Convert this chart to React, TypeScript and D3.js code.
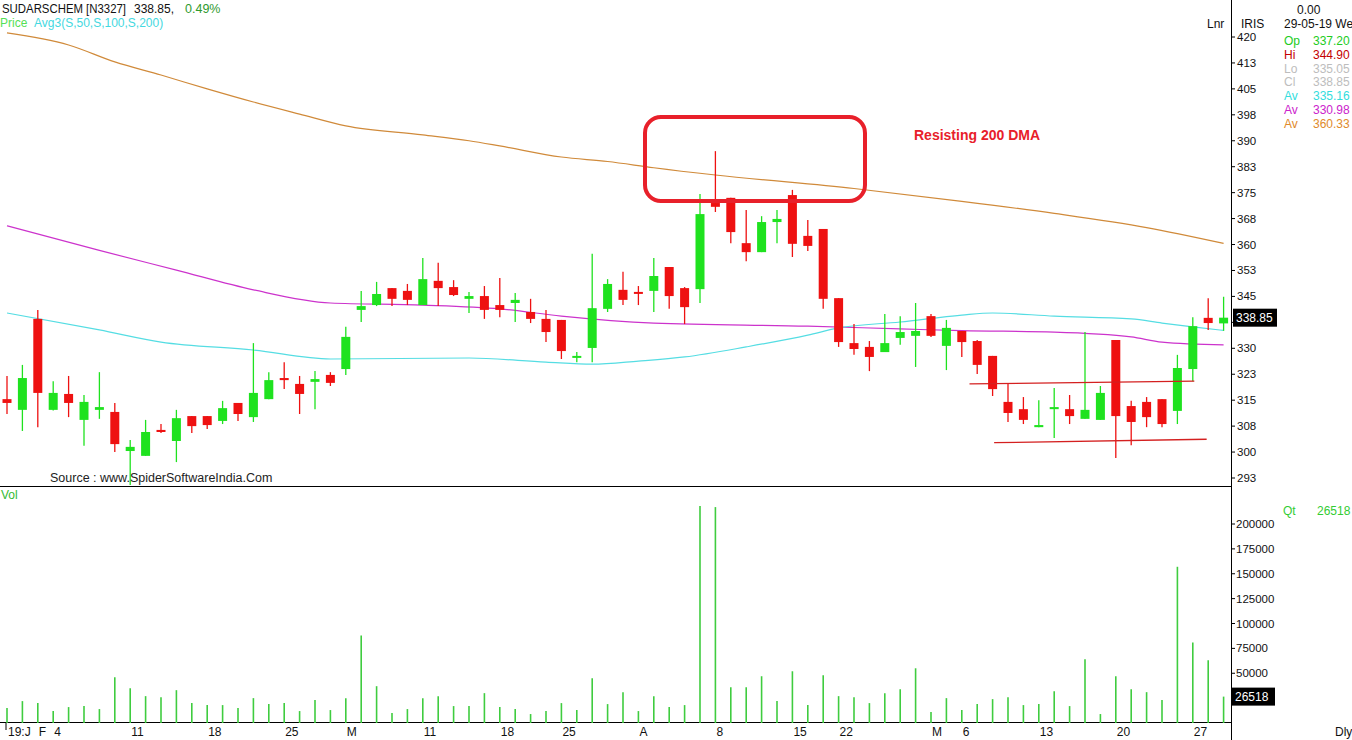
import React from 'react';
import * as d3 from 'd3';

// ---------- DATA ----------
const opens = [315.3,312.2,338.5,312.2,316.8,309.3,312.2,311.6,300.3,298.9,306.4,303.2,310.4,310.4,309.0,314.2,310.1,315.3,321.4,319.7,320.3,322.3,324.0,341.1,342.5,347.4,346.6,342.5,349.5,347.7,344.3,345.1,342.5,343.1,340.5,338.5,338.2,327.5,330.1,341.4,346.9,346.3,346.6,353.5,347.4,347.1,372.0,373.5,360.4,357.8,366.5,374.3,362.5,364.5,344.5,331.5,330.4,328.9,333.0,333.6,339.3,330.7,335.0,332.1,327.8,314.5,312.4,307.2,312.4,312.4,309.6,309.3,332.4,313.3,314.5,315.3,311.9,324.0,338.8,337.2];
const highs = [322.0,325.2,341.1,320.5,322.0,316.5,323.1,314.2,303.5,309.3,308.1,312.2,310.4,310.4,314.8,314.2,331.5,323.1,326.0,322.0,323.4,323.1,336.2,346.6,349.2,347.4,348.6,356.1,354.7,349.7,346.3,348.0,350.3,346.0,344.3,341.1,338.2,328.9,357.3,350.0,352.1,348.0,356.1,353.5,347.7,374.6,387.0,373.5,370.0,368.2,370.0,375.8,367.1,364.5,344.5,337.0,332.1,339.9,339.3,343.1,339.9,338.2,335.0,332.4,327.8,320.0,315.9,315.0,318.5,316.5,334.7,319.1,332.4,314.8,315.9,315.3,328.1,339.0,344.5,344.9];
const lows = [311.0,306.1,307.2,312.0,310.1,301.8,309.6,300.0,290.5,298.9,305.5,297.1,305.5,306.7,308.1,309.0,308.7,315.3,318.2,311.0,312.4,319.1,322.3,337.6,342.2,342.2,342.5,342.5,342.2,345.1,340.2,338.5,339.0,337.6,337.3,331.8,326.9,326.0,326.0,340.5,342.5,342.5,340.5,341.4,337.0,343.1,369.4,360.4,355.2,357.8,360.4,356.4,358.1,341.4,330.4,328.1,323.4,328.9,331.0,324.6,333.3,323.7,327.5,322.6,316.2,308.7,308.1,307.2,304.1,308.1,309.6,309.3,298.3,302.0,307.2,307.2,308.1,320.5,335.3,335.05];
const closes = [314.2,321.4,317.1,317.1,314.2,314.5,313.0,302.3,301.5,305.8,305.8,309.8,307.5,307.8,312.7,311.0,317.1,320.8,320.8,316.8,321.1,320.0,333.3,342.2,345.7,344.3,344.0,350.0,347.4,345.4,345.1,341.1,341.1,344.0,338.5,334.7,329.2,327.8,341.6,348.6,344.0,346.0,350.9,345.1,341.9,368.8,370.9,363.6,357.8,366.5,367.4,360.2,359.6,344.3,331.8,329.8,327.5,331.5,334.7,335.0,333.6,335.9,331.8,325.2,318.2,311.3,309.3,307.8,313.0,310.4,312.2,317.1,310.4,308.7,310.1,308.1,324.3,336.4,337.3,338.85];
const volumes = [15000,22000,20000,12000,16000,17000,14000,46000,35000,27000,26000,33000,20000,18000,18000,15000,25000,19000,20000,12000,23000,13000,25000,88000,37000,10000,14000,25000,27000,17000,17000,30000,16000,14000,9000,12000,20000,13000,45000,19000,31000,12000,27000,16000,18000,218000,217000,36000,36000,47000,22000,52000,18000,48000,27000,26000,20000,30000,34000,55000,11000,25000,13000,19000,24000,26000,18000,19000,32000,17000,64000,9000,47000,34000,31000,23000,157000,81000,63000,26518];

// moving averages read at candle indexes: [index, value]
const sma50 = [[0,340.2],[6,335.3],[10,331.8],[16,329.5],[21,326.9],[30,327.2],[35,326.0],[38,325.4],[41,326.3],[44,327.5],[48,330.4],[52,333.8],[54,335.9],[58,337.6],[62,339.6],[64,340.2],[68,339.3],[73,338.5],[75,337.3],[77,336.2],[79,335.16]];
const sma100 = [[0,365.4],[6,358.3],[11,352.6],[16,346.9],[21,343.1],[27,342.5],[32,341.4],[36,339.3],[42,337.3],[52,336.4],[58,335.6],[62,335.1],[68,334.7],[73,333.3],[75,331.8],[79,330.98]];
const sma200 = [[0,421.2],[4,417.7],[7,412.8],[10,409.0],[13,405.0],[16,401.2],[19,397.7],[22,394.3],[27,391.7],[30,390.0],[32,388.5],[36,385.3],[39,384.0],[42,382.2],[46,380.1],[55,376.2],[62,372.5],[68,369.0],[74,364.9],[79,360.33]];

// drawn support / resistance lines: [startIndex, startPrice, endIndex, endPrice]
const trendLines = [[62.5,319.7,77.1,320.5],[64.1,302.7,77.9,303.7]];

const priceTicks = [292.5,300,307.5,315,322.5,330,337.5,345,352.5,360,367.5,375,382.5,390,397.5,405,412.5,420];
const volTicks = [25000,50000,75000,100000,125000,150000,175000,200000];
const dateTickIdx = [0,2,3,8,13,18,22,27,32,36,41,46,51,54,60,62,67,72,77];
const dateTickLabels = ['19:J','F','4','11','18','25','M','11','18','25','A','8','15','22','M','6','13','20','27'];

const infoLabels = ['Op','Hi','Lo','Cl','Av','Av','Av'];
const infoValues = ['337.20','344.90','335.05','338.85','335.16','330.98','360.33'];
const infoColors = ['#22cc22','#c40000','#bdbdbd','#bdbdbd','#33dddd','#cc22cc','#e08a2a'];

// ---------- CHART ----------
const W = 1352, H = 740;
const AXIS_X = 1231;
const FONT = '"Liberation Sans", Arial, sans-serif';
const GREEN = '#1fe21f';
const RED = '#ee1111';

export default function App() {
  const x = d3.scaleLinear().domain([0, 79]).range([7, 1223.6]);
  const y = d3.scaleLinear().domain([292.5, 420]).range([478, 37]);
  const yv = d3.scaleLinear().domain([0, 200000]).range([723, 524]);

  const maLine = d3.line<number[]>().x(d => x(d[0])).y(d => y(d[1])).curve(d3.curveMonotoneX);

  const bodyW = 9;
  const lastClose = closes[closes.length - 1];
  const lastVol = volumes[volumes.length - 1];
  const closeY = y(lastClose);
  const volY = yv(lastVol);

  return (
    <svg width={W} height={H} style={{ position: 'absolute', left: 0, top: 0, background: '#fff' }} fontFamily={FONT}>
      <rect x={0} y={0} width={W} height={H} fill="#fff" />
      <defs>
        <clipPath id="pricePanel"><rect x={0} y={0} width={AXIS_X} height={486} /></clipPath>
        <clipPath id="volPanel"><rect x={0} y={487} width={AXIS_X} height={236} /></clipPath>
      </defs>

      {/* header */}
      <text x={2} y={13} fontSize={12} fill="#111" textLength={124} lengthAdjust="spacingAndGlyphs">SUDARSCHEM [N3327]</text>
      <text x={134} y={13} fontSize={12} fill="#111">338.85,</text>
      <text x={185} y={13} fontSize={12.5} fill="#2f9a2f">0.49%</text>
      <text x={0} y={27} fontSize={12} fill="#55e055">Price</text>
      <text x={34} y={27} fontSize={12} fill="#44d8e0">Avg3(S,50,S,100,S,200)</text>

      {/* moving averages */}
      <g clipPath="url(#pricePanel)" fill="none">
        <path d={maLine(sma200) || ''} stroke="#d08a3a" strokeWidth={1.2} />
        <path d={maLine(sma100) || ''} stroke="#cc33cc" strokeWidth={1.2} />
        <path d={maLine(sma50) || ''} stroke="#55dde3" strokeWidth={1.2} />
      </g>

      {/* candles */}
      <g clipPath="url(#pricePanel)">
        {opens.map((o, i) => {
          const c = closes[i];
          const up = c >= o;
          const col = up ? GREEN : RED;
          const cx = x(i);
          const top = y(Math.max(o, c));
          const bot = y(Math.min(o, c));
          return (
            <g key={i}>
              <line x1={cx} x2={cx} y1={y(highs[i])} y2={y(lows[i])} stroke={col} strokeWidth={1.3} />
              <rect x={cx - bodyW / 2} y={top} width={bodyW} height={Math.max(bot - top, 2)} fill={col} />
            </g>
          );
        })}
      </g>

      {/* trend lines */}
      {trendLines.map((t, i) => (
        <line key={i} x1={x(t[0])} y1={y(t[1])} x2={x(t[2])} y2={y(t[3])} stroke="#d42020" strokeWidth={1.3} />
      ))}

      {/* annotation */}
      <rect x={645} y={117} width={220} height={84} rx={16} ry={16} fill="none" stroke="#e8202a" strokeWidth={4} />
      <text x={914} y={140} fontSize={14} fontWeight="bold" fill="#e8202a">Resisting 200 DMA</text>

      <text x={50} y={482} fontSize={12.5} fill="#222">Source : www.SpiderSoftwareIndia.Com</text>

      {/* panel borders */}
      <line x1={0} x2={AXIS_X} y1={486.5} y2={486.5} stroke="#000" strokeWidth={1} />
      <line x1={0} x2={AXIS_X} y1={722.5} y2={722.5} stroke="#000" strokeWidth={1} />
      <line x1={AXIS_X + 0.5} x2={AXIS_X + 0.5} y1={0} y2={H} stroke="#000" strokeWidth={1} />

      {/* price axis */}
      <text x={1207} y={28} fontSize={12} fill="#111">Lnr</text>
      <text x={1241} y={28} fontSize={12} fill="#111">IRIS</text>
      {priceTicks.map((t, i) => (
        <g key={i}>
          <line x1={AXIS_X} x2={AXIS_X + 4} y1={y(t)} y2={y(t)} stroke="#000" />
          {Math.abs(y(t) - closeY) > 12 && (
            <text x={1237} y={y(t) + 4} fontSize={11.5} fill="#111">{Math.round(t)}</text>
          )}
        </g>
      ))}
      <rect x={1233} y={closeY - 9} width={44} height={18} fill="#000" />
      <text x={1236} y={closeY + 4.5} fontSize={12} fill="#fff">{lastClose.toFixed(2)}</text>

      {/* info panel */}
      <text x={1297} y={14} fontSize={12} fill="#111">0.00</text>
      <text x={1284} y={28} fontSize={12} fill="#111">29-05-19 We</text>
      {infoLabels.map((l, i) => (
        <g key={i}>
          <text x={1284} y={45 + i * 13.8} fontSize={12} fill={infoColors[i]}>{l}</text>
          <text x={1313} y={45 + i * 13.8} fontSize={12} fill={infoColors[i]}>{infoValues[i]}</text>
        </g>
      ))}

      {/* volume */}
      <text x={1} y={499} fontSize={12} fill="#33bb33">Vol</text>
      <g clipPath="url(#volPanel)">
        {volumes.map((v, i) => (
          <line key={i} x1={x(i)} x2={x(i)} y1={yv(0)} y2={yv(v)} stroke="#3fcc3f" strokeWidth={1.6} />
        ))}
      </g>
      {volTicks.map((t, i) => (
        <g key={i}>
          <line x1={AXIS_X} x2={AXIS_X + 4} y1={yv(t)} y2={yv(t)} stroke="#000" />
          {Math.abs(yv(t) - volY) > 12 && (
            <text x={1236} y={yv(t) + 4} fontSize={11.5} fill="#111">{t}</text>
          )}
        </g>
      ))}
      <rect x={1232} y={volY - 9} width={43} height={18} fill="#000" />
      <text x={1235} y={volY + 4.5} fontSize={12} fill="#fff">{lastVol}</text>
      <text x={1283} y={515} fontSize={12} fill="#33cc33">Qt</text>
      <text x={1317} y={515} fontSize={12} fill="#33cc33">{lastVol}</text>

      {/* date axis */}
      <line x1={x(0) - 1} x2={x(0) - 1} y1={723} y2={730} stroke="#000" />
      {dateTickIdx.map((d, i) => (
        <text key={i} x={x(d) + 1} y={736} fontSize={12} fill="#111">{dateTickLabels[i]}</text>
      ))}
      <text x={1335} y={736} fontSize={12} fill="#111">Dly</text>
    </svg>
  );
}
